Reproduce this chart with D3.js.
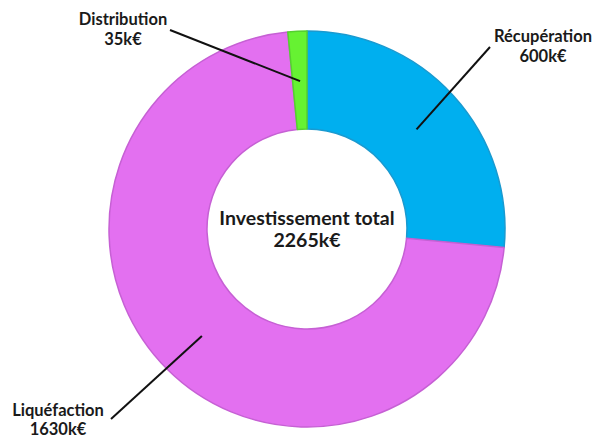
<!DOCTYPE html>
<html>
<head>
<meta charset="utf-8">
<script src="https://cdn.jsdelivr.net/npm/d3@7"></script>
<style>
  html, body { margin: 0; padding: 0; background: #ffffff; }
  svg text { font-family: "Lato", "Open Sans", sans-serif; font-weight: bold; fill: #1a1a1a; }
</style>
</head>
<body>
<svg id="chart" width="592" height="439"></svg>
<script>
// Investment breakdown (k€), in clockwise order starting at 12 o'clock
const categories = ["Récupération", "Liquéfaction", "Distribution"];
const values = [600, 1630, 35];
const colors = ["#00AFEF", "#E370F0", "#66F232"];
const strokes = ["#1A9AD0", "#C660D4", "#55D030"];
const centerTitle = "Investissement total";
const unit = "k€";

const total = d3.sum(values);

const svg = d3.select("#chart");
const cx = 307, cy = 229, outerR = 198, innerR = 100;

const pie = d3.pie().sort(null).value(d => d.value);
const arcs = pie(categories.map((c, i) => ({ name: c, value: values[i], i })));
const arc = d3.arc().innerRadius(innerR).outerRadius(outerR);

const g = svg.append("g").attr("transform", `translate(${cx},${cy})`);

g.selectAll("path.slice")
  .data(arcs)
  .join("path")
  .attr("class", "slice")
  .attr("d", arc)
  .attr("fill", d => colors[d.data.i])
  .attr("stroke", d => strokes[d.data.i])
  .attr("stroke-width", 1.5)
  .attr("stroke-linejoin", "round");

// Label placement and leader lines (line end given by angle/radius inside the ring)
const labelSpec = {
  "Récupération": { text: [543, 42], line: [490, 47], angle: 0.833, r: 148, gap: 20 },
  "Liquéfaction": { text: [58, 416], line: [111, 419], angle: 3.918, r: 150, gap: 19 },
  "Distribution": { text: [123, 25], line: [170, 30], angle: -0.047, r: 148, gap: 20 }
};

arcs.forEach(d => {
  const s = labelSpec[d.data.name];
  const px = cx + s.r * Math.sin(s.angle);
  const py = cy - s.r * Math.cos(s.angle);
  svg.append("line")
    .attr("x1", s.line[0]).attr("y1", s.line[1])
    .attr("x2", px).attr("y2", py)
    .attr("stroke", "#111")
    .attr("stroke-width", 2);
  const t = svg.append("text")
    .attr("text-anchor", "middle")
    .attr("font-size", 16.5);
  t.append("tspan").attr("x", s.text[0]).attr("y", s.text[1]).text(d.data.name);
  t.append("tspan").attr("x", s.text[0]).attr("dy", s.gap).text(d.data.value + unit);
});

// Total in the hole
const ct = svg.append("text")
  .attr("text-anchor", "middle")
  .attr("font-size", 19.5);
ct.append("tspan").attr("x", cx).attr("y", 225).text(centerTitle);
ct.append("tspan").attr("x", cx).attr("dy", 22).text(total + unit);
</script>
</body>
</html>
